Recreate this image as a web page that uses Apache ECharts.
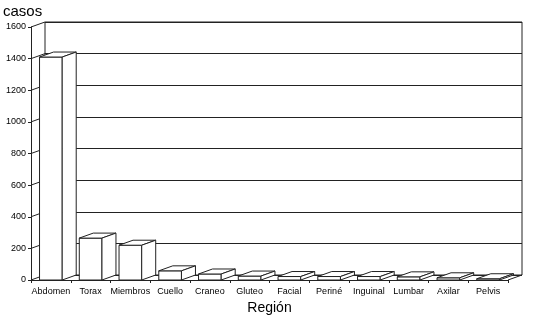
<!DOCTYPE html>
<html><head><meta charset="utf-8">
<script src="https://cdn.jsdelivr.net/npm/echarts@6/dist/echarts.min.js"></script>
<style>html,body{margin:0;padding:0;background:#fff}#c{width:540px;height:320px}</style>
</head><body><div id="c"></div>
<script>
const categories = ['Abdomen','Torax','Miembros','Cuello','Craneo','Gluteo','Facial','Periné','Inguinal','Lumbar','Axilar','Pelvis'];
const casos = [1410, 265, 220, 58, 38, 25, 22, 22, 22, 20, 14, 8];
const yTicks = [0, 200, 400, 600, 800, 1000, 1200, 1400, 1600];
const yTitle = 'casos';
const xTitle = 'Región';

const DX = 14, DY = -5;
const LINE = '#222';
const FONT = "'Liberation Sans', Arial, sans-serif";
const chart = echarts.init(document.getElementById('c'), null, {renderer: 'canvas'});

chart.setOption({
  animation: false,
  backgroundColor: '#fff',
  grid: [
    {left: 31, right: 32, top: 27, bottom: 40},
    {left: 31 + DX, right: 32 - DX, top: 27 + DY, bottom: 40 - DY, show: true, borderColor: LINE, borderWidth: 1, backgroundColor: 'transparent'}
  ],
  xAxis: [
    {type: 'category', gridIndex: 0, data: categories,
     axisLine: {lineStyle: {color: LINE, width: 1}},
     axisTick: {show: true, length: 3, lineStyle: {color: LINE}},
     axisLabel: {color: '#000', fontSize: 9, fontFamily: FONT, margin: 7, interval: 0},
     name: xTitle, nameLocation: 'middle', nameGap: 21,
     nameTextStyle: {color: '#000', fontSize: 14, fontFamily: FONT}},
    {type: 'category', gridIndex: 1, data: categories, show: false}
  ],
  yAxis: [
    {type: 'value', gridIndex: 0, min: 0, max: 1600, interval: 200,
     axisLine: {show: true, lineStyle: {color: LINE, width: 1}},
     axisTick: {show: true, length: 3, lineStyle: {color: LINE}},
     axisLabel: {color: '#000', fontSize: 9, fontFamily: FONT, margin: 5, formatter: v => String(v)},
     splitLine: {show: false}},
    {type: 'value', gridIndex: 1, min: 0, max: 1600, interval: 200,
     axisLine: {show: false}, axisTick: {show: false}, axisLabel: {show: false},
     splitLine: {show: true, lineStyle: {color: LINE, width: 1}}}
  ],
  graphic: [
    {type: 'text', left: 3, top: 4, style: {text: yTitle, fill: '#000', fontSize: 15, fontFamily: FONT}}
  ],
  series: [
    {
      type: 'custom', xAxisIndex: 0, yAxisIndex: 0, z: 1,
      data: yTicks.map(v => [0, v]),
      renderItem: function (params, api) {
        const cs = params.coordSys;
        const y = api.coord([0, api.value(1)])[1];
        const x0 = cs.x;
        return {type: 'line', shape: {x1: x0, y1: y, x2: x0 + DX, y2: y + DY},
                style: {stroke: LINE, lineWidth: 1}};
      }
    },
    {
      type: 'custom', xAxisIndex: 0, yAxisIndex: 0, z: 1,
      data: [[0, 0]],
      renderItem: function (params, api) {
        const cs = params.coordSys;
        const y = api.coord([0, 0])[1];
        const x1 = cs.x + cs.width;
        return {type: 'line', shape: {x1: x1, y1: y, x2: x1 + DX, y2: y + DY},
                style: {stroke: LINE, lineWidth: 1}};
      }
    },
    {
      type: 'custom', xAxisIndex: 0, yAxisIndex: 0, z: 3,
      data: casos.map((v, i) => [i, v]),
      renderItem: function (params, api) {
        const top = api.coord([api.value(0), api.value(1)]);
        const base = api.coord([api.value(0), 0]);
        const bw = api.size([1, 0])[0] * 0.57;
        const l = top[0] - bw / 2, r = top[0] + bw / 2;
        const t = top[1], b = base[1];
        const st = {fill: '#fff', stroke: LINE, lineWidth: 1};
        return {type: 'group', children: [
          {type: 'polygon', shape: {points: [[l, b], [r, b], [r, t], [l, t]]}, style: st},
          {type: 'polygon', shape: {points: [[l, t], [r, t], [r + DX, t + DY], [l + DX, t + DY]]}, style: st},
          {type: 'polygon', shape: {points: [[r, b], [r + DX, b + DY], [r + DX, t + DY], [r, t]]}, style: st}
        ]};
      }
    }
  ]
});
</script></body></html>
